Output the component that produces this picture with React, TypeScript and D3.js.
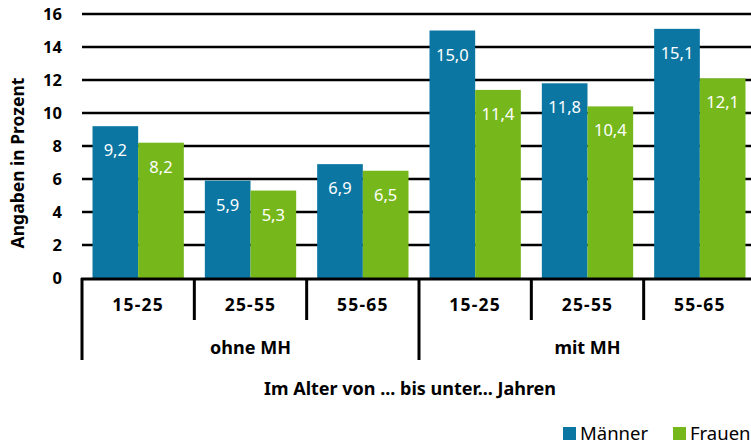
import React, { useRef, useEffect } from 'react';
import * as d3 from 'd3';

const groups = ['ohne MH', 'mit MH'];
const ageBands = ['15-25', '25-55', '55-65'];
const series = ['Männer', 'Frauen'];
const maennerValues = [9.2, 5.9, 6.9, 15.0, 11.8, 15.1];
const frauenValues = [8.2, 5.3, 6.5, 11.4, 10.4, 12.1];
const yTicks = [0, 2, 4, 6, 8, 10, 12, 14, 16];
const colors = ['#0b76a2', '#76b81b'];

const FONT = '"Noto Sans", "Open Sans", sans-serif';

function App() {
    const ref = useRef<SVGSVGElement>(null);

    useEffect(() => {
        const svg = d3.select(ref.current);
        svg.selectAll('*').remove();

        const left = 82, right = 756, top = 14, bottom = 278;

        const cats = groups.flatMap(g => ageBands.map(a => g + '|' + a));
        const x = d3.scaleBand().domain(cats).range([left, right]).padding(0);
        const xs = d3.scaleBand().domain(series).range([0, x.bandwidth()]).paddingOuter(0.23).paddingInner(0);
        const y = d3.scaleLinear().domain([0, 16]).range([bottom, top]);

        // grid
        svg.append('g')
            .selectAll('line')
            .data(yTicks.filter(t => t > 0))
            .enter().append('line')
            .attr('x1', left).attr('x2', 751)
            .attr('y1', d => y(d)).attr('y2', d => y(d))
            .attr('stroke', '#000').attr('stroke-width', 2.5);

        // y tick labels
        svg.append('g')
            .selectAll('text')
            .data(yTicks)
            .enter().append('text')
            .attr('x', 62)
            .attr('y', d => y(d))
            .attr('dy', '0.36em')
            .attr('text-anchor', 'end')
            .style('font-family', FONT)
            .style('font-weight', 'bold')
            .style('font-size', '16.5px')
            .text(d => d);

        const rows = cats.map((c, i) => ({ cat: c, vals: [maennerValues[i], frauenValues[i]] }));

        const gBars = svg.append('g');
        rows.forEach(r => {
            r.vals.forEach((v, j) => {
                const bx = (x(r.cat) as number) + (xs(series[j]) as number);
                gBars.append('rect')
                    .attr('x', bx)
                    .attr('y', y(v))
                    .attr('width', xs.bandwidth())
                    .attr('height', y(0) - y(v))
                    .attr('fill', colors[j]);
                gBars.append('text')
                    .attr('x', bx + xs.bandwidth() / 2)
                    .attr('y', y(v) + 30)
                    .attr('text-anchor', 'middle')
                    .attr('fill', '#fff')
                    .style('font-family', FONT)
                    .style('font-size', '16.5px')
                    .text(v.toFixed(1).replace('.', ','));
            });
        });

        // baseline
        svg.append('line')
            .attr('x1', left - 1).attr('x2', 751)
            .attr('y1', bottom + 1).attr('y2', bottom + 1)
            .attr('stroke', '#000').attr('stroke-width', 3);

        // category dividers
        const xg = svg.append('g');
        cats.forEach((c, i) => {
            const cx = x(c) as number;
            const long = i % ageBands.length === 0;
            xg.append('line')
                .attr('x1', cx).attr('x2', cx)
                .attr('y1', bottom).attr('y2', long ? 360 : 320)
                .attr('stroke', '#000').attr('stroke-width', 3);
            xg.append('text')
                .attr('x', cx + x.bandwidth() / 2)
                .attr('y', 311)
                .attr('text-anchor', 'middle')
                .style('font-family', FONT)
                .style('font-weight', 'bold')
                .style('font-size', '17.5px')
                .style('letter-spacing', '1.2px')
                .text(c.split('|')[1]);
        });
        xg.append('line')
            .attr('x1', right).attr('x2', right)
            .attr('y1', bottom).attr('y2', 360)
            .attr('stroke', '#000').attr('stroke-width', 3);

        groups.forEach(g => {
            const x0 = x(g + '|' + ageBands[0]) as number;
            const x1 = (x(g + '|' + ageBands[ageBands.length - 1]) as number) + x.bandwidth();
            xg.append('text')
                .attr('x', (x0 + x1) / 2)
                .attr('y', 354)
                .attr('text-anchor', 'middle')
                .style('font-family', FONT)
                .style('font-weight', 'bold')
                .style('font-size', '18px')
                .text(g);
        });

        // axis titles
        svg.append('text')
            .attr('x', 410)
            .attr('y', 395)
            .attr('text-anchor', 'middle')
            .style('font-family', FONT)
            .style('font-weight', 'bold')
            .style('font-size', '18px')
            .text('Im Alter von ... bis unter... Jahren');

        svg.append('text')
            .attr('transform', 'translate(24,163) rotate(-90)')
            .attr('text-anchor', 'middle')
            .style('font-family', FONT)
            .style('font-weight', 'bold')
            .style('font-size', '17.5px')
            .text('Angaben in Prozent');

        // legend
        const legX = [563, 673];
        series.forEach((s, i) => {
            svg.append('rect')
                .attr('x', legX[i]).attr('y', 427)
                .attr('width', 13).attr('height', 13)
                .attr('fill', colors[i]);
            svg.append('text')
                .attr('x', legX[i] + 17)
                .attr('y', 440)
                .style('font-family', FONT)
                .style('font-size', '18.5px')
                .text(s);
        });
    }, []);

    return (
        <svg ref={ref} width={751} height={446} style={{ position: 'absolute', left: 0, top: 0 }} />
    );
}

export default App;
